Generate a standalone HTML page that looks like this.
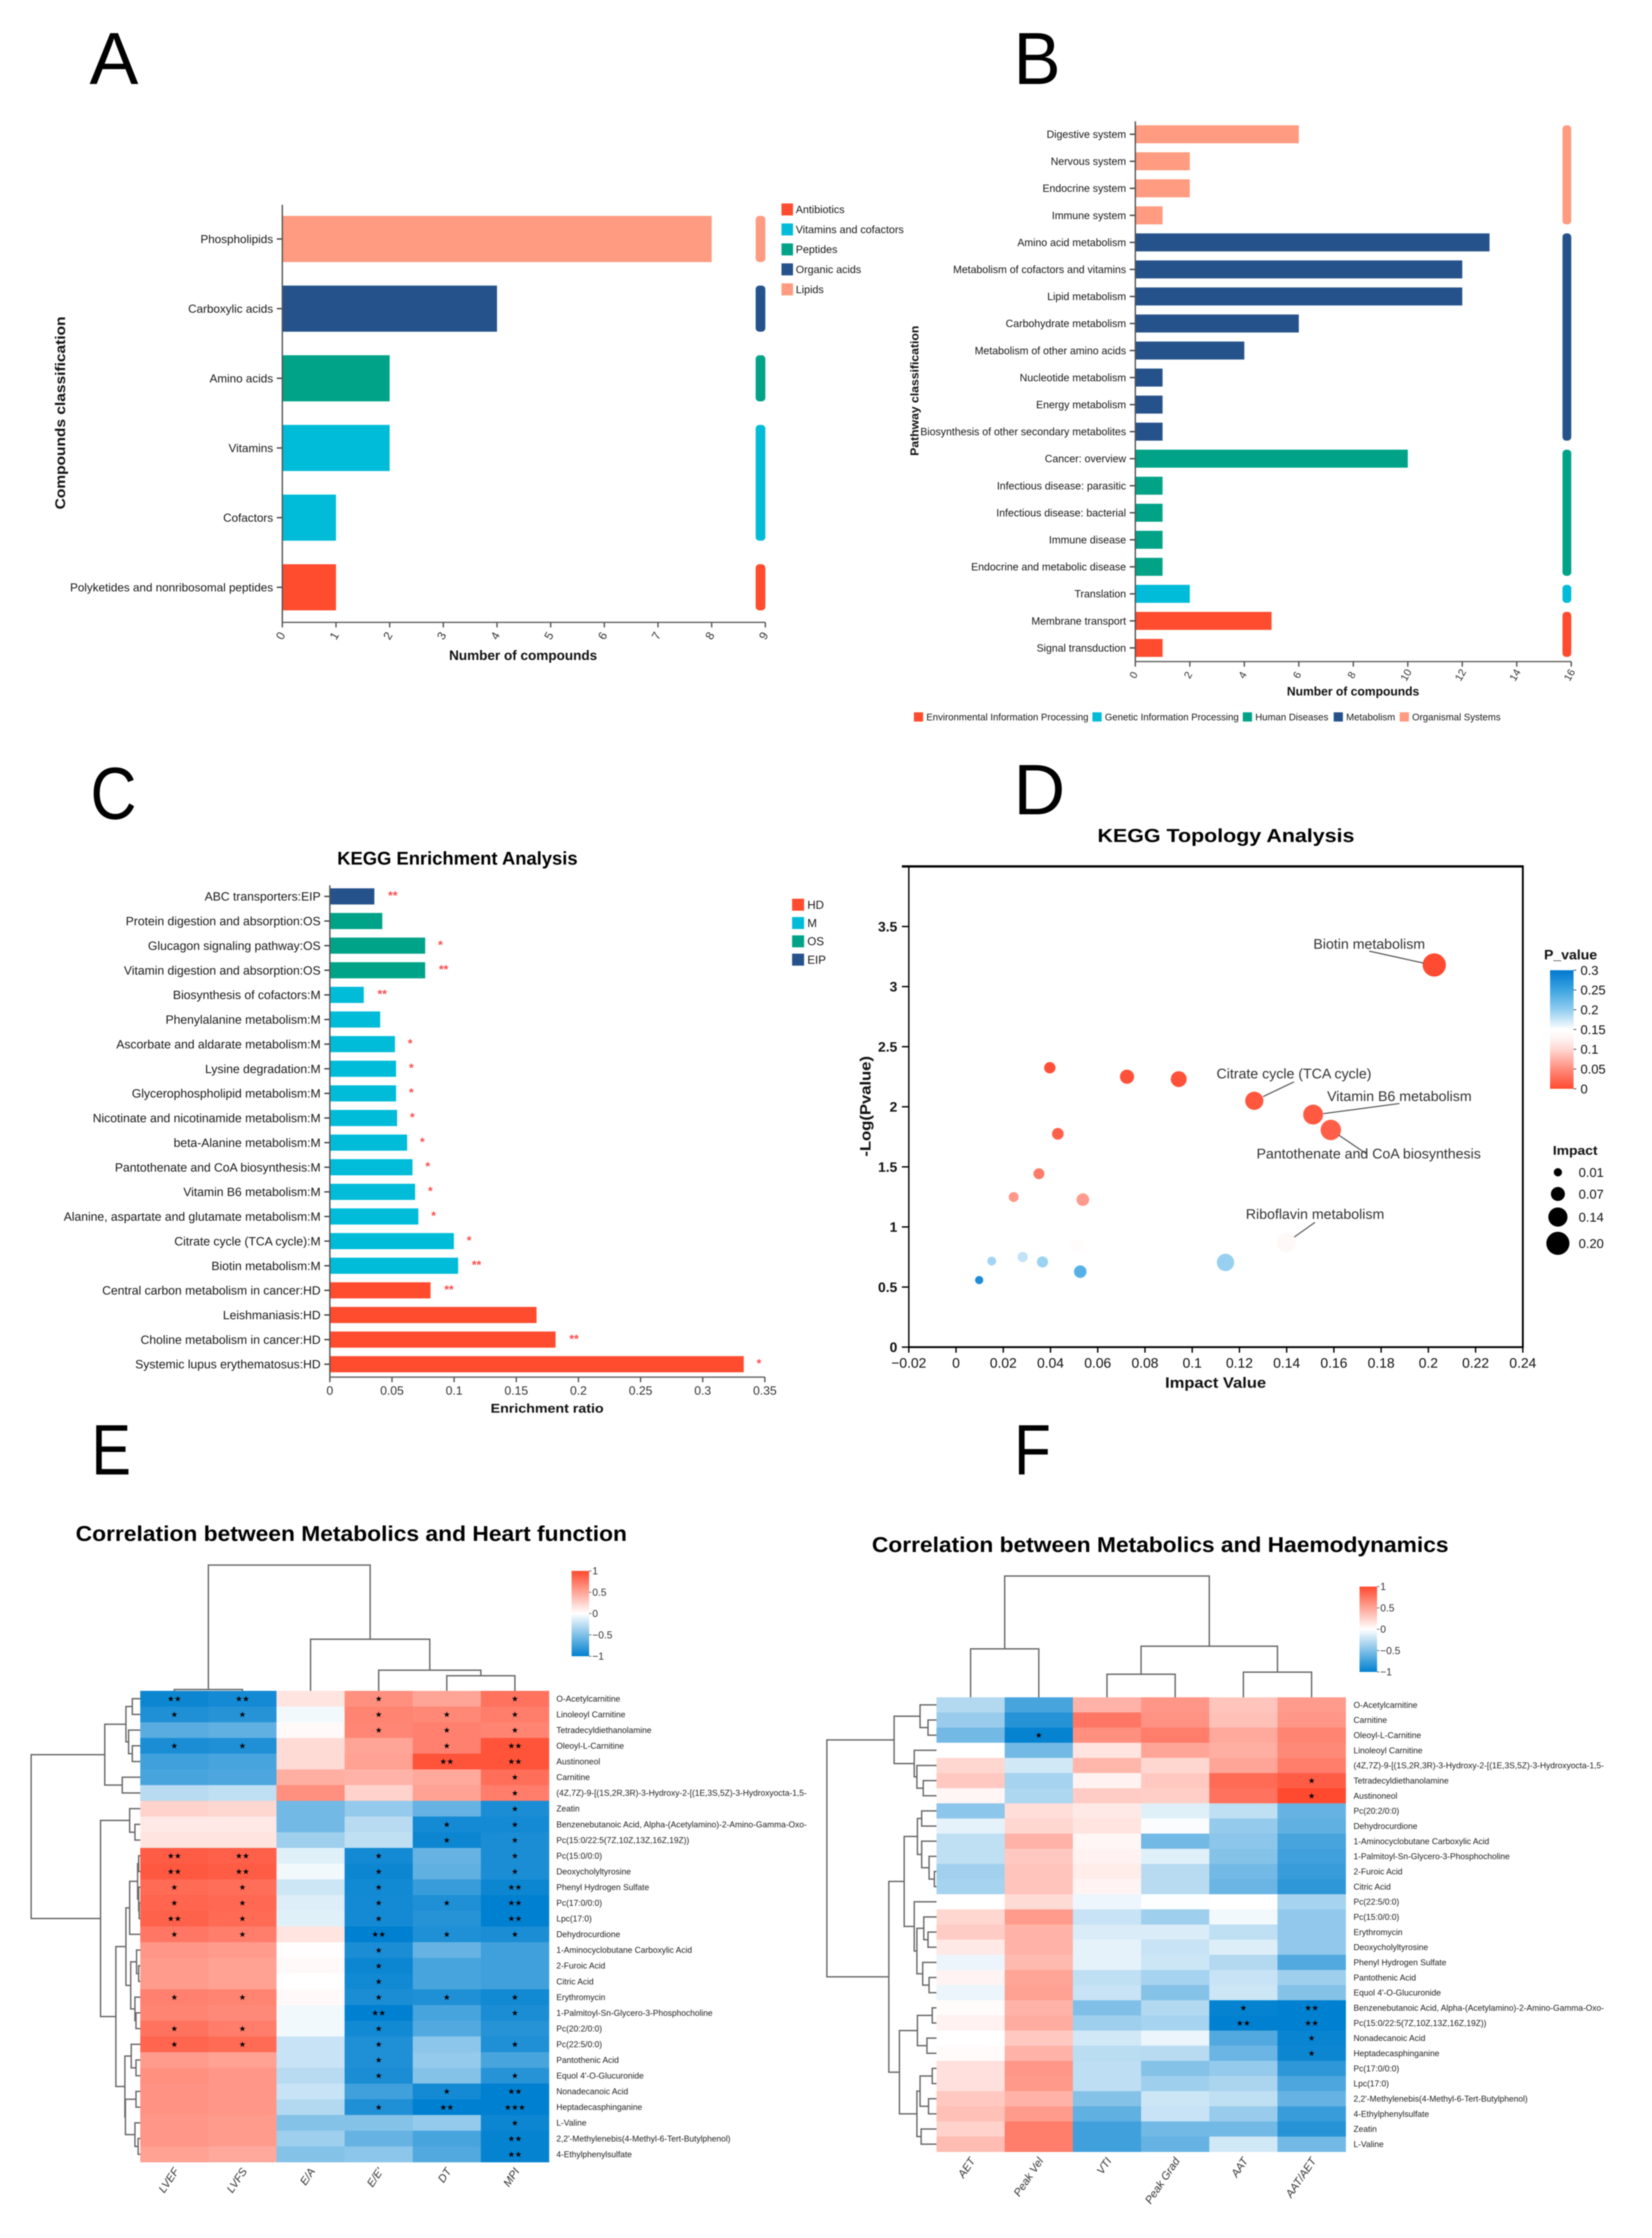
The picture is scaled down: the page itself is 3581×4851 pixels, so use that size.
<!DOCTYPE html>
<html lang="en">
<head>
<meta charset="utf-8">
<title>Metabolomics figure panels A-F</title>
<style>
html,body{margin:0;padding:0;background:#fff;}
#figure{display:block;width:3581px;height:4851px;filter:blur(1.3px);}
text{font-family:"Liberation Sans",sans-serif;}
</style>
</head>
<body>
<svg id="figure" xmlns="http://www.w3.org/2000/svg" width="3581" height="4851" viewBox="0 0 3581 4851">
<rect x="0" y="0" width="3581" height="4851" fill="#ffffff"/>
<text x="194" y="182" font-size="160" textLength="106" lengthAdjust="spacingAndGlyphs">A</text>
<text x="2197" y="182" font-size="160" textLength="102" lengthAdjust="spacingAndGlyphs">B</text>
<text x="196" y="1775" font-size="160" textLength="100" lengthAdjust="spacingAndGlyphs">C</text>
<text x="2197" y="1765" font-size="155" textLength="112" lengthAdjust="spacingAndGlyphs">D</text>
<text x="198" y="3196" font-size="155" textLength="86" lengthAdjust="spacingAndGlyphs">E</text>
<text x="2198" y="3196" font-size="155" textLength="80" lengthAdjust="spacingAndGlyphs">F</text>
<text x="731" y="1874" font-size="40" font-weight="700" textLength="521" lengthAdjust="spacingAndGlyphs">KEGG Enrichment Analysis</text>
<text x="2379" y="1825" font-size="41" font-weight="700" textLength="557" lengthAdjust="spacingAndGlyphs">KEGG Topology Analysis</text>
<text x="164" y="3340" font-size="46" font-weight="700" textLength="1195" lengthAdjust="spacingAndGlyphs">Correlation between Metabolics and Heart function</text>
<text x="1890" y="3364" font-size="46" font-weight="700" textLength="1250" lengthAdjust="spacingAndGlyphs">Correlation between Metabolics and Haemodynamics</text>
<g id="chart-root"></g>
</svg>
<script>
/* ---------- Panel A data ---------- */
const aCategories = ["Phospholipids","Carboxylic acids","Amino acids","Vitamins","Cofactors","Polyketides and nonribosomal peptides"];
const aValues = [8,4,2,2,1,1];
const aGroups = ["Lipids","Organic acids","Peptides","Vitamins and cofactors","Vitamins and cofactors","Antibiotics"];
const aLegend = ["Antibiotics","Vitamins and cofactors","Peptides","Organic acids","Lipids"];
const aTicks = [0,1,2,3,4,5,6,7,8,9];

/* ---------- Panel B data ---------- */
const bCategories = ["Digestive system","Nervous system","Endocrine system","Immune system","Amino acid metabolism","Metabolism of cofactors and vitamins","Lipid metabolism","Carbohydrate metabolism","Metabolism of other amino acids","Nucleotide metabolism","Energy metabolism","Biosynthesis of other secondary metabolites","Cancer: overview","Infectious disease: parasitic","Infectious disease: bacterial","Immune disease","Endocrine and metabolic disease","Translation","Membrane transport","Signal transduction"];
const bValues = [6,2,2,1,13,12,12,6,4,1,1,1,10,1,1,1,1,2,5,1];
const bGroups = ["Organismal Systems","Organismal Systems","Organismal Systems","Organismal Systems","Metabolism","Metabolism","Metabolism","Metabolism","Metabolism","Metabolism","Metabolism","Metabolism","Human Diseases","Human Diseases","Human Diseases","Human Diseases","Human Diseases","Genetic Information Processing","Environmental Information Processing","Environmental Information Processing"];
const bLegend = ["Environmental Information Processing","Genetic Information Processing","Human Diseases","Metabolism","Organismal Systems"];
const bTicks = [0,2,4,6,8,10,12,14,16];

/* ---------- Panel C data ---------- */
const cCategories = ["ABC transporters:EIP","Protein digestion and absorption:OS","Glucagon signaling pathway:OS","Vitamin digestion and absorption:OS","Biosynthesis of cofactors:M","Phenylalanine metabolism:M","Ascorbate and aldarate metabolism:M","Lysine degradation:M","Glycerophospholipid metabolism:M","Nicotinate and nicotinamide metabolism:M","beta-Alanine metabolism:M","Pantothenate and CoA biosynthesis:M","Vitamin B6 metabolism:M","Alanine, aspartate and glutamate metabolism:M","Citrate cycle (TCA cycle):M","Biotin metabolism:M","Central carbon metabolism in cancer:HD","Leishmaniasis:HD","Choline metabolism in cancer:HD","Systemic lupus erythematosus:HD"];
const cValues = [0.0358,0.0422,0.0767,0.0767,0.0273,0.0405,0.0524,0.0533,0.0533,0.0541,0.0622,0.0665,0.0686,0.0712,0.0998,0.1032,0.081,0.1663,0.1816,0.333];
const cGroups = ["EIP","OS","OS","OS","M","M","M","M","M","M","M","M","M","M","M","M","HD","HD","HD","HD"];
const cStars = ["**","","*","**","**","","*","*","*","*","*","*","*","*","*","**","**","","**","*"];
const cLegend = ["HD","M","OS","EIP"];
const cTicks = [0,0.05,0.1,0.15,0.2,0.25,0.3,0.35];
const cTickLabels = ["0","0.05","0.1","0.15","0.2","0.25","0.3","0.35"];

/* ---------- Panel D data ---------- */
const dPathways = ["Biotin metabolism","p2","p3","p4","Citrate cycle (TCA cycle)","Vitamin B6 metabolism","Pantothenate and CoA biosynthesis","p8","p9","p10","p11","Riboflavin metabolism","p13","p14","p15","p16","p17","p18","p19"];
const dImpact = [0.2025,0.0397,0.0724,0.0943,0.1263,0.1512,0.1587,0.0431,0.0351,0.0244,0.0537,0.1399,0.0513,0.0282,0.0151,0.0366,0.0526,0.1141,0.0098];
const dLogP = [3.18,2.325,2.25,2.23,2.05,1.935,1.807,1.775,1.443,1.249,1.227,0.87,0.845,0.75,0.716,0.709,0.628,0.705,0.558];
const dXTicks = [-0.02,0,0.02,0.04,0.06,0.08,0.1,0.12,0.14,0.16,0.18,0.2,0.22,0.24];
const dXTickLabels = ["\u22120.02","0","0.02","0.04","0.06","0.08","0.1","0.12","0.14","0.16","0.18","0.2","0.22","0.24"];
const dYTicks = [0,0.5,1,1.5,2,2.5,3,3.5,4];
const dYTickLabels = ["0","0.5","1","1.5","2","2.5","3","3.5",""];
const dPTicks = [0,0.05,0.1,0.15,0.2,0.25,0.3];
const dPTickLabels = ["0","0.05","0.1","0.15","0.2","0.25","0.3"];
const dSizeLegend = [0.01,0.07,0.14,0.20];

/* ---------- Panel E data ---------- */
const eColumns = ["LVEF","LVFS","E/A","E/E'","DT","MPI"];
const eRows = ["O-Acetylcarnitine","Linoleoyl Carnitine","Tetradecyldiethanolamine","Oleoyl-L-Carnitine","Austinoneol","Carnitine","(4Z,7Z)-9-[(1S,2R,3R)-3-Hydroxy-2-[(1E,3S,5Z)-3-Hydroxyocta-1,5-","Zeatin","Benzenebutanoic Acid, Alpha-(Acetylamino)-2-Amino-Gamma-Oxo-","Pc(15:0/22:5(7Z,10Z,13Z,16Z,19Z))","Pc(15:0/0:0)","Deoxycholyltyrosine","Phenyl Hydrogen Sulfate","Pc(17:0/0:0)","Lpc(17:0)","Dehydrocurdione","1-Aminocyclobutane Carboxylic Acid","2-Furoic Acid","Citric Acid","Erythromycin","1-Palmitoyl-Sn-Glycero-3-Phosphocholine","Pc(20:2/0:0)","Pc(22:5/0:0)","Pantothenic Acid","Equol 4'-O-Glucuronide","Nonadecanoic Acid","Heptadecasphinganine","L-Valine","2,2'-Methylenebis(4-Methyl-6-Tert-Butylphenol)","4-Ethylphenylsulfate"];
const eValues = [
[-0.95,-0.92,0.15,0.62,0.5,0.78],
[-0.88,-0.85,-0.05,0.68,0.66,0.72],
[-0.65,-0.62,0.03,0.67,0.7,0.68],
[-0.9,-0.88,0.2,0.5,0.7,0.95],
[-0.75,-0.72,0.2,0.52,0.95,0.95],
[-0.72,-0.7,0.45,0.42,0.48,0.8],
[-0.28,-0.25,0.62,0.25,0.52,0.72],
[0.25,0.22,-0.55,-0.42,-0.6,-0.9],
[0.12,0.12,-0.55,-0.28,-0.92,-0.92],
[0.15,0.15,-0.38,-0.25,-0.95,-0.9],
[0.9,0.88,-0.12,-0.92,-0.6,-0.9],
[0.92,0.9,-0.05,-0.95,-0.62,-0.9],
[0.82,0.8,-0.2,-0.93,-0.78,-0.95],
[0.85,0.83,-0.13,-0.92,-0.88,-1],
[0.87,0.82,-0.12,-0.92,-0.85,-1],
[0.75,0.72,0.15,-1,-0.88,-0.9],
[0.58,0.55,0.01,-0.9,-0.6,-0.75],
[0.55,0.52,0.03,-0.95,-0.72,-0.75],
[0.55,0.52,0,-0.93,-0.72,-0.75],
[0.7,0.68,0.03,-0.9,-0.88,-0.93],
[0.68,0.65,-0.05,-1,-0.72,-0.9],
[0.78,0.72,-0.05,-0.93,-0.68,-0.85],
[0.85,0.82,-0.22,-0.88,-0.45,-0.88],
[0.55,0.52,-0.22,-0.88,-0.42,-0.72],
[0.62,0.58,-0.28,-0.9,-0.48,-0.85],
[0.6,0.58,-0.22,-0.75,-0.92,-1],
[0.6,0.58,-0.3,-0.88,-1,-1],
[0.58,0.55,-0.48,-0.48,-0.42,-0.95],
[0.58,0.55,-0.38,-0.6,-0.72,-0.98],
[0.52,0.48,-0.48,-0.45,-0.68,-0.98]];
const eSignif = [
[2,2,0,1,0,1],[1,1,0,1,1,1],[0,0,0,1,1,1],[1,1,0,0,1,2],[0,0,0,0,2,2],[0,0,0,0,0,1],[0,0,0,0,0,1],
[0,0,0,0,0,1],[0,0,0,0,1,1],[0,0,0,0,1,1],[2,2,0,1,0,1],[2,2,0,1,0,1],[1,1,0,1,0,2],[1,1,0,1,1,2],[2,1,0,1,0,2],
[1,1,0,2,1,1],[0,0,0,1,0,0],[0,0,0,1,0,0],[0,0,0,1,0,0],[1,1,0,1,1,1],[0,0,0,2,0,1],[1,1,0,1,0,0],[1,1,0,1,0,1],
[0,0,0,1,0,0],[0,0,0,1,0,1],[0,0,0,0,1,2],[0,0,0,1,2,3],[0,0,0,0,0,1],[0,0,0,0,0,2],[0,0,0,0,0,2]];
const eColumnTree = [475,[5,0,1],[195,2,[78,3,[57,4,5]]]];
const eRowTree = [206,
 [67,[27,[15,0,1],[22,2,[15,3,4]]],[34,5,6]],
 [75,[20,7,[10,8,9]],
  [46,
   [27,[20,[5,[3,10,11],[3,12,[2,13,14]]],15],[18,[7,16,[3,17,18]],[10,19,[8,20,21]]]],
   [29,[17,22,[8,23,24]],[28,[8,25,26],[10,27,[4,28,29]]]]]]];

/* ---------- Panel F data ---------- */
const fColumns = ["AET","Peak Vel","VTI","Peak Grad","AAT","AAT/AET"];
const fRows = ["O-Acetylcarnitine","Carnitine","Oleoyl-L-Carnitine","Linoleoyl Carnitine","(4Z,7Z)-9-[(1S,2R,3R)-3-Hydroxy-2-[(1E,3S,5Z)-3-Hydroxyocta-1,5-","Tetradecyldiethanolamine","Austinoneol","Pc(20:2/0:0)","Dehydrocurdione","1-Aminocyclobutane Carboxylic Acid","1-Palmitoyl-Sn-Glycero-3-Phosphocholine","2-Furoic Acid","Citric Acid","Pc(22:5/0:0)","Pc(15:0/0:0)","Erythromycin","Deoxycholyltyrosine","Phenyl Hydrogen Sulfate","Pantothenic Acid","Equol 4'-O-Glucuronide","Benzenebutanoic Acid, Alpha-(Acetylamino)-2-Amino-Gamma-Oxo-","Pc(15:0/22:5(7Z,10Z,13Z,16Z,19Z))","Nonadecanoic Acid","Heptadecasphinganine","Pc(17:0/0:0)","Lpc(17:0)","2,2'-Methylenebis(4-Methyl-6-Tert-Butylphenol)","4-Ethylphenylsulfate","Zeatin","L-Valine"];
const fValues = [
[-0.3,-0.72,0.42,0.58,0.32,0.55],
[-0.4,-0.85,0.75,0.6,0.35,0.58],
[-0.55,-0.98,0.62,0.72,0.48,0.68],
[0,-0.55,0.15,0.5,0.45,0.65],
[0.22,-0.18,0.4,0.22,0.5,0.72],
[0.3,-0.35,0.07,0.3,0.82,0.9],
[0.05,-0.32,0.28,0.27,0.78,1],
[-0.45,0.18,0.12,-0.12,-0.25,-0.6],
[-0.1,0.22,0.15,-0.02,-0.42,-0.62],
[-0.25,0.42,0.05,-0.55,-0.45,-0.72],
[-0.25,0.3,0.07,-0.12,-0.48,-0.75],
[-0.37,0.32,0.1,-0.28,-0.55,-0.78],
[-0.35,0.32,0.06,-0.28,-0.58,-0.82],
[0,0.2,-0.07,-0.01,0,-0.35],
[0.22,0.55,-0.22,-0.38,-0.05,-0.43],
[0.28,0.42,-0.15,-0.15,-0.25,-0.43],
[0.12,0.42,-0.1,-0.22,-0.13,-0.43],
[-0.08,0.38,-0.1,-0.2,-0.3,-0.68],
[0.06,0.5,-0.25,-0.35,-0.22,-0.38],
[-0.08,0.52,-0.22,-0.48,-0.2,-0.48],
[0.02,0.42,-0.5,-0.3,-0.98,-1],
[0.07,0.46,-0.38,-0.35,-1,-1],
[0,0.3,-0.18,-0.08,-0.68,-0.97],
[0.02,0.42,-0.27,-0.28,-0.58,-0.95],
[0.17,0.58,-0.26,-0.48,-0.42,-0.82],
[0.17,0.56,-0.26,-0.38,-0.33,-0.7],
[0.3,0.42,-0.48,-0.2,-0.25,-0.6],
[0.35,0.55,-0.62,-0.22,-0.4,-0.78],
[0.25,0.72,-0.75,-0.55,-0.55,-0.85],
[0.37,0.72,-0.75,-0.6,-0.18,-0.55]];
const fSignif = [
[0,0,0,0,0,0],[0,0,0,0,0,0],[0,1,0,0,0,0],[0,0,0,0,0,0],[0,0,0,0,0,0],[0,0,0,0,0,1],[0,0,0,0,0,1],
[0,0,0,0,0,0],[0,0,0,0,0,0],[0,0,0,0,0,0],[0,0,0,0,0,0],[0,0,0,0,0,0],[0,0,0,0,0,0],[0,0,0,0,0,0],[0,0,0,0,0,0],
[0,0,0,0,0,0],[0,0,0,0,0,0],[0,0,0,0,0,0],[0,0,0,0,0,0],[0,0,0,0,0,0],[0,0,0,0,1,2],[0,0,0,0,2,2],[0,0,0,0,0,1],
[0,0,0,0,0,1],[0,0,0,0,0,0],[0,0,0,0,0,0],[0,0,0,0,0,0],[0,0,0,0,0,0],[0,0,0,0,0,0],[0,0,0,0,0,0]];
const fColumnTree = [458,[183,0,1],[193,[87,2,3],[95,4,5]]];
const fRowTree = [207,
 [80,[31,0,[16,1,2]],[42,3,[37,4,[25,5,6]]]],
 [90,
  [61,[36,[28,7,8],[28,9,[14,10,[4,11,12]]]],[42,13,[37,[24,14,[16,15,16]],[26,17,[14,18,19]]]]],
  [70,[36,[8,20,21],[18,22,23]],[37,[31,[8,24,25],[15,26,27]],[29,28,29]]]]];
const heatTicks = [1,0.5,0,-0.5,-1];
const heatTickLabels = ["1","0.5","0","\u22120.5","\u22121"];

/* ---------- shared colours ---------- */
const RED = "#ff4b2e", CYAN = "#00bcd8", TEAL = "#00a387", NAVY = "#25528a", SALMON = "#ff9b80";
const aColors = {"Antibiotics":RED,"Vitamins and cofactors":CYAN,"Peptides":TEAL,"Organic acids":NAVY,"Lipids":SALMON};
const bColors = {"Environmental Information Processing":RED,"Genetic Information Processing":CYAN,"Human Diseases":TEAL,"Metabolism":NAVY,"Organismal Systems":SALMON};
const cColors = {"HD":RED,"M":CYAN,"OS":TEAL,"EIP":NAVY};

/* ---------- helpers ---------- */
const NS = "http://www.w3.org/2000/svg";
const chartRoot = document.getElementById("chart-root");

function addText(str, x, y, size, opts, name) {
  const o = opts || {};
  const el = document.createElementNS(NS, "text");
  
  
  el.setAttribute("x", x);
  el.setAttribute("y", y + size * 0.35);
  el.setAttribute("font-size", size);
  el.setAttribute("text-anchor", o.anchor || "start");
  el.setAttribute("fill", o.fill || "#1a1a1a");
  if (o.weight) el.setAttribute("font-weight", o.weight);
  if (o.italic) el.setAttribute("font-style", "italic");
  if (o.fit) { el.setAttribute("textLength", o.fit); el.setAttribute("lengthAdjust", "spacingAndGlyphs"); }
  if (o.rotate) el.setAttribute("transform", "rotate(" + o.rotate + " " + x + " " + y + ")");
  if (o.family) el.style.fontFamily = o.family;
  el.textContent = str;
  chartRoot.appendChild(el);
  return el;
}
function addLine(x1, y1, x2, y2, stroke, width, name) {
  const el = document.createElementNS(NS, "line");
  
  
  el.setAttribute("x1", x1); el.setAttribute("y1", y1);
  el.setAttribute("x2", x2); el.setAttribute("y2", y2);
  el.setAttribute("stroke", stroke); el.setAttribute("stroke-width", width);
  chartRoot.appendChild(el);
  return el;
}
function addRect(x, y, w, h, fill, name, rx) {
  const el = document.createElementNS(NS, "rect");
  
  
  el.setAttribute("x", x); el.setAttribute("y", y);
  el.setAttribute("width", Math.max(0, w)); el.setAttribute("height", h);
  el.setAttribute("fill", fill);
  if (rx) el.setAttribute("rx", rx);
  chartRoot.appendChild(el);
  return el;
}
function addPath(d, stroke, width, name) {
  const el = document.createElementNS(NS, "path");
  
  
  el.setAttribute("d", d);
  el.setAttribute("fill", "none");
  el.setAttribute("stroke", stroke);
  el.setAttribute("stroke-width", width);
  chartRoot.appendChild(el);
  return el;
}
function slug(s) { return String(s).toLowerCase().replace(/[^a-z0-9]+/g, "-").replace(/^-|-$/g, ""); }
function hexMix(a, b, t) {
  const r = [0, 1, 2].map(function (i) { return Math.round(a[i] + (b[i] - a[i]) * t); });
  return "rgb(" + r.join(",") + ")";
}

/* ---------- horizontal bar panels ---------- */
function drawBars(cfg) {
  const xScale = function (v) { return cfg.x0 + (v - cfg.domainMin) / (cfg.domainMax - cfg.domainMin) * (cfg.x1 - cfg.x0); };
  const yScale = function (i) { return cfg.yFirst + i * cfg.yStep; };
  cfg.categories.forEach(function (cat, i) {
    const y = yScale(i);
    addRect(cfg.x0, y - cfg.barH / 2, xScale(cfg.values[i]) - cfg.x0, cfg.barH, cfg.colors[cfg.groups[i]], cfg.prefix + "-bar-" + slug(cat));
    addLine(cfg.x0 - 12, y, cfg.x0, y, "#444", 3, cfg.prefix + "-tick-" + slug(cat));
    addText(cat, cfg.x0 - 20, y, cfg.labelSize, {anchor: "end"}, cfg.prefix + "-label-" + slug(cat));
  });
  addLine(cfg.x0, cfg.yTop, cfg.x0, cfg.yBottom, "#555", 3, cfg.prefix + "-y-axis");
  addLine(cfg.x0, cfg.yBottom, cfg.x1, cfg.yBottom, "#666", 3, cfg.prefix + "-x-axis");
  cfg.ticks.forEach(function (t, i) {
    const x = xScale(t);
    addLine(x, cfg.yBottom, x, cfg.yBottom + 11, "#555", 3, cfg.prefix + "-x-tick-" + slug(t));
    const label = cfg.tickLabels ? cfg.tickLabels[i] : String(t);
    if (cfg.rotateTicks) {
      addText(label, x - 4, cfg.yBottom + 29, cfg.labelSize, {anchor: "middle", rotate: -60, fill: "#333"}, cfg.prefix + "-x-tick-label-" + slug(t));
    } else {
      addText(label, x, cfg.yBottom + 29, cfg.labelSize, {anchor: "middle", fill: "#333"}, cfg.prefix + "-x-tick-label-" + slug(t));
    }
  });
  if (cfg.stripX !== undefined) {
    let start = 0;
    cfg.groups.forEach(function (g, i) {
      if (i === cfg.groups.length - 1 || cfg.groups[i + 1] !== g) {
        const top = yScale(start) - cfg.barH / 2;
        const bottom = yScale(i) + cfg.barH / 2;
        addRect(cfg.stripX, top, cfg.stripW, bottom - top, cfg.colors[g], cfg.prefix + "-group-strip-" + slug(g), 8);
        start = i + 1;
      }
    });
  }
}

drawBars({prefix: "compounds", categories: aCategories, values: aValues, groups: aGroups, colors: aColors,
  ticks: aTicks, domainMin: 0, domainMax: 9, x0: 612, x1: 1659, yFirst: 518, yStep: 151, barH: 100,
  yTop: 444, yBottom: 1349, labelSize: 25.3, rotateTicks: true, stripX: 1638, stripW: 21});
addText("Compounds classification", 130, 895, 31, {anchor: "middle", weight: 700, fill: "#111", rotate: -90, fit: 418}, "compounds-y-axis-title");
addText("Number of compounds", 1134, 1420, 30, {anchor: "middle", weight: 700, fill: "#111", fit: 321}, "compounds-x-axis-title");
aLegend.forEach(function (g, i) {
  const y = 454 + i * 43.3;
  addRect(1694, y - 13, 25, 26, aColors[g], "compounds-legend-swatch-" + slug(g));
  addText(g, 1725, y, 23.2, {}, "compounds-legend-label-" + slug(g));
});

drawBars({prefix: "pathway", categories: bCategories, values: bValues, groups: bGroups, colors: bColors,
  ticks: bTicks, domainMin: 0, domainMax: 16, x0: 2461, x1: 3406, yFirst: 291, yStep: 58.6, barH: 39,
  yTop: 263, yBottom: 1434, labelSize: 22.8, rotateTicks: true, stripX: 3387, stripW: 19});
addText("Pathway classification", 1982, 847, 25, {anchor: "middle", weight: 700, fill: "#111", rotate: -90, fit: 282}, "pathway-y-axis-title");
addText("Number of compounds", 2933, 1498, 27, {anchor: "middle", weight: 700, fill: "#111", fit: 287}, "pathway-x-axis-title");
const bLegendStarts = [1981, 2368, 2694, 2891, 3034];
bLegend.forEach(function (g, i) {
  addRect(bLegendStarts[i], 1544, 20, 20, bColors[g], "pathway-legend-swatch-" + slug(g));
  addText(g, bLegendStarts[i] + 27, 1554, 20.8, {}, "pathway-legend-label-" + slug(g));
});

drawBars({prefix: "enrichment", categories: cCategories, values: cValues, groups: cGroups, colors: cColors,
  ticks: cTicks, tickLabels: cTickLabels, domainMin: 0, domainMax: 0.35, x0: 715, x1: 1658, yFirst: 1943, yStep: 53.37, barH: 35,
  yTop: 1919, yBottom: 2985, labelSize: 26.3, rotateTicks: false});
addText("Enrichment ratio", 1186, 3052, 28, {anchor: "middle", weight: 700, fill: "#111", fit: 245}, "enrichment-x-axis-title");
cStars.forEach(function (s, i) {
  if (!s) return;
  const x = 715 + cValues[i] / 0.35 * 943 + 33 + (s.length - 1) * 7;
  addText(s, x, 1943 + i * 53.37 - 2, 26, {anchor: "middle", weight: 700, fill: "#ff4a4a"}, "enrichment-significance-" + slug(cCategories[i]));
});
cLegend.forEach(function (g, i) {
  const y = 1961 + i * 39.7;
  addRect(1717, y - 13, 26, 26, cColors[g], "enrichment-legend-swatch-" + slug(g));
  addText(g, 1750, y, 25, {}, "enrichment-legend-label-" + slug(g));
});

/* ---------- panel D bubble plot ---------- */
const pStops = [[0,[255,74,48]],[0.05,[255,140,125]],[0.1,[255,215,210]],[0.13,[254,246,245]],[0.15,[255,255,255]],[0.2,[145,205,240]],[0.25,[60,165,225]],[0.3,[0,120,208]]];
function pColor(p) {
  const v = Math.min(0.3, Math.max(0, p));
  for (let i = 1; i < pStops.length; i++) {
    if (v <= pStops[i][0]) {
      const t = (v - pStops[i - 1][0]) / (pStops[i][0] - pStops[i - 1][0]);
      return hexMix(pStops[i - 1][1], pStops[i][1], t);
    }
  }
  return "rgb(0,120,208)";
}
const dX = function (v) { return 1970 + (v + 0.02) / 0.26 * 1331; };
const dY = function (v) { return 2920 - v / 4 * 1042; };
const dR = function (v) { return 7 + 18 * Math.pow(v / 0.2, 0.75); };
addLine(1955, 1878, 3303, 1878, "#000", 5, "topology-frame-top");
addLine(3301, 1878, 3301, 2920, "#000", 4, "topology-frame-right");
addLine(1970, 1876, 1970, 2922, "#000", 3, "topology-y-axis");
addLine(1970, 2920, 3303, 2920, "#000", 4, "topology-x-axis");
dXTicks.forEach(function (t, i) {
  addLine(dX(t), 2920, dX(t), 2932, "#000", 3, "topology-x-tick-" + slug(t));
  addText(dXTickLabels[i], dX(t), 2954, 30, {anchor: "middle", fill: "#111"}, "topology-x-tick-label-" + slug(t));
});
dYTicks.forEach(function (t, i) {
  addLine(1955, dY(t), 1970, dY(t), "#000", 3, "topology-y-tick-" + slug(t));
  if (dYTickLabels[i]) addText(dYTickLabels[i], 1945, dY(t), 30, {anchor: "end", weight: 700, fill: "#111"}, "topology-y-tick-label-" + slug(t));
});
addText("Impact Value", 2635, 2997, 32, {anchor: "middle", weight: 700, fill: "#111", fit: 219}, "topology-x-axis-title");
addText("-Log(Pvalue)", 1876, 2398, 32, {anchor: "middle", weight: 700, fill: "#111", rotate: -90, fit: 218}, "topology-y-axis-title");
dImpact.forEach(function (v, i) {
  const el = document.createElementNS(NS, "circle");
  
  
  el.setAttribute("cx", dX(v));
  el.setAttribute("cy", dY(dLogP[i]));
  el.setAttribute("r", dR(v));
  el.setAttribute("fill", pColor(Math.pow(10, -dLogP[i])));
  chartRoot.appendChild(el);
});
const dAnnotationIndex = [0, 4, 5, 6, 11];
const dAnnotationGeom = [
  {lx: -141, ly: -46, ax: -141, ay: -30, bx: -23, by: -4},
  {lx: 86, ly: -59, ax: 86, ay: -41, bx: 19, by: -9},
  {lx: 187, ly: -40, ax: 187, ay: -24, bx: 22, by: -2},
  {lx: 82, ly: 51, ax: 79, ay: 53, bx: 17, by: 11},
  {lx: 62, ly: -62, ax: 62, ay: -44, bx: 17, by: -12}];
dAnnotationIndex.forEach(function (idx, k) {
  const g = dAnnotationGeom[k];
  const px = dX(dImpact[idx]), py = dY(dLogP[idx]);
  addLine(px + g.ax, py + g.ay, px + g.bx, py + g.by, "#555", 2.5, "topology-leader-" + slug(dPathways[idx]));
  addText(dPathways[idx], px + g.lx, py + g.ly, 30.7, {anchor: "middle", fill: "#333"}, "topology-annotation-" + slug(dPathways[idx]));
});
/* gradients */
function addGradient(id, stops) {
  let defs = document.getElementById("chart-defs");
  if (!defs) {
    defs = document.createElementNS(NS, "defs");
    defs.setAttribute("id", "chart-defs");
    chartRoot.appendChild(defs);
  }
  const g = document.createElementNS(NS, "linearGradient");
  g.setAttribute("id", id);
  g.setAttribute("x1", "0"); g.setAttribute("y1", "0"); g.setAttribute("x2", "0"); g.setAttribute("y2", "1");
  stops.forEach(function (s) {
    const st = document.createElementNS(NS, "stop");
    st.setAttribute("offset", s[0]);
    st.setAttribute("stop-color", s[1]);
    g.appendChild(st);
  });
  defs.appendChild(g);
}
addGradient("p-gradient", pStops.slice().reverse().map(function (s) { return [1 - s[0] / 0.3, "rgb(" + s[1].join(",") + ")"]; }));
addGradient("heat-gradient", [[0, "#ff4a30"], [0.5, "#ffffff"], [1, "#0080d0"]]);
addRect(3360, 2103, 51, 257, "url(#p-gradient)", "p-value-colorbar");
addText("P_value", 3347, 2069, 30, {weight: 700, fill: "#111", fit: 115}, "p-value-legend-title");
dPTicks.forEach(function (t, i) {
  const y = 2360 - t / 0.3 * 257;
  addLine(3411, y, 3417, y, "#555", 2, "p-value-tick-" + slug(t));
  addText(dPTickLabels[i], 3426, y, 28, {fill: "#111"}, "p-value-tick-label-" + slug(t));
});
addText("Impact", 3366, 2493, 28, {weight: 700, fill: "#111", fit: 97}, "impact-legend-title");
dSizeLegend.forEach(function (v, i) {
  const y = [2541, 2588, 2638, 2695][i];
  const el = document.createElementNS(NS, "circle");
  
  
  el.setAttribute("cx", 3377);
  el.setAttribute("cy", y);
  el.setAttribute("r", dR(v));
  el.setAttribute("fill", "#000");
  chartRoot.appendChild(el);
  addText(v.toFixed(2), 3422, y, 28, {fill: "#111"}, "impact-legend-label-" + slug(v));
});

/* ---------- heatmaps ---------- */
function heatColor(v) {
  const c = Math.max(-1, Math.min(1, v));
  return c >= 0 ? hexMix([255, 255, 255], [255, 74, 48], c) : hexMix([255, 255, 255], [0, 128, 208], -c);
}
function drawHeatmap(cfg) {
  const colW = (cfg.x1 - cfg.x0) / cfg.columns.length;
  const rowH = (cfg.y1 - cfg.y0) / cfg.rows.length;
  const cxAt = function (c) { return cfg.x0 + (c + 0.5) * colW; };
  const cyAt = function (r) { return cfg.y0 + (r + 0.5) * rowH; };
  cfg.values.forEach(function (row, r) {
    row.forEach(function (v, c) {
      addRect(cfg.x0 + c * colW, cfg.y0 + r * rowH, colW + 0.5, rowH + 0.5, heatColor(v), cfg.prefix + "-cell-" + r + "-" + c);
    });
  });
  cfg.signif.forEach(function (row, r) {
    row.forEach(function (n, c) {
      if (n > 0) {
        addText("\u2605".repeat(n), cxAt(c), cyAt(r), 17, {anchor: "middle", fill: "#000", family: '"DejaVu Sans",sans-serif'}, cfg.prefix + "-significance-" + r + "-" + c);
      }
    });
  });
  cfg.rows.forEach(function (name, r) {
    addText(name, cfg.labelX, cyAt(r), 18.2, {fill: "#222"}, cfg.prefix + "-row-label-" + slug(name));
  });
  cfg.columns.forEach(function (name, c) {
    addText(name, cxAt(c) + 4, cfg.y1 + 15, 24, {anchor: "end", italic: true, fill: "#333", rotate: -56}, cfg.prefix + "-column-label-" + slug(name));
  });
  function walkTop(node) {
    if (typeof node === "number") return {pos: cxAt(node), h: 0};
    const a = walkTop(node[1]), b = walkTop(node[2]);
    const h = node[0] * 0.574;
    addPath("M" + a.pos + " " + (cfg.y0 - a.h) + "V" + (cfg.y0 - h) + "H" + b.pos + "V" + (cfg.y0 - b.h), "#666", 3, cfg.prefix + "-column-dendrogram-link");
    return {pos: (a.pos + b.pos) / 2, h: h};
  }
  function walkLeft(node) {
    if (typeof node === "number") return {pos: cyAt(node), h: 0};
    const a = walkLeft(node[1]), b = walkLeft(node[2]);
    const h = node[0] * 1.148;
    addPath("M" + (cfg.x0 - a.h) + " " + a.pos + "H" + (cfg.x0 - h) + "V" + b.pos + "H" + (cfg.x0 - b.h), "#666", 3, cfg.prefix + "-row-dendrogram-link");
    return {pos: (a.pos + b.pos) / 2, h: h};
  }
  walkTop(cfg.columnTree);
  walkLeft(cfg.rowTree);
  addRect(cfg.barX, cfg.barTop, 38, cfg.barBottom - cfg.barTop, "url(#heat-gradient)", cfg.prefix + "-colorbar");
  heatTicks.forEach(function (t, i) {
    const y = cfg.barBottom - (t + 1) / 2 * (cfg.barBottom - cfg.barTop);
    addLine(cfg.barX + 38, y, cfg.barX + 43, y, "#777", 2, cfg.prefix + "-colorbar-tick-" + slug(t));
    addText(heatTickLabels[i], cfg.barX + 45, y, 22, {fill: "#333"}, cfg.prefix + "-colorbar-label-" + slug(t));
  });
}
drawHeatmap({prefix: "heart", columns: eColumns, rows: eRows, values: eValues, signif: eSignif,
  columnTree: eColumnTree, rowTree: eRowTree, x0: 304, x1: 1190, y0: 3665, y1: 4686.5, labelX: 1206,
  barX: 1239, barTop: 3405, barBottom: 3590});
drawHeatmap({prefix: "haemodynamics", columns: fColumns, rows: fRows, values: fValues, signif: fSignif,
  columnTree: fColumnTree, rowTree: fRowTree, x0: 2030, x1: 2917, y0: 3679, y1: 4664, labelX: 2934,
  barX: 2947, barTop: 3439, barBottom: 3624});
</script>
</body>
</html>
